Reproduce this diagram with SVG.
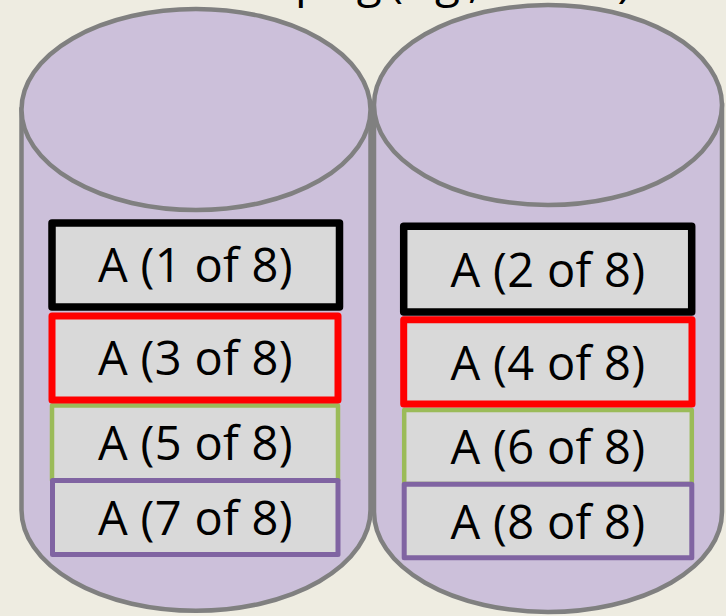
<svg xmlns="http://www.w3.org/2000/svg" width="726" height="616" viewBox="0 0 726 616">
  <style>
    .bg { fill: #EEECE1; }
    .disk { fill: #CCC0DA; stroke: #808080; stroke-width: 4.5; }
    .blk { fill: #D9D9D9; stroke-linejoin: round; }
    .s1 { stroke: #000000; stroke-width: 7.5; }
    .s2 { stroke: #FF0000; stroke-width: 7; }
    .s3 { stroke: #9BBB59; stroke-width: 4.5; }
    .s4 { stroke: #8064A2; stroke-width: 5; }
    .lbl { font-family: "Open Sans", "Liberation Sans", sans-serif; font-size: 47px; fill: #000000; text-anchor: middle; letter-spacing: 0.3px; }
    .title { font-family: "Open Sans", "Liberation Sans", sans-serif; font-size: 46px; fill: #000000; }
  </style>

  <rect class="bg" x="0" y="0" width="726" height="616"/>

  <!-- heading, mostly above the top edge -->
  <text class="title" x="231" y="-3.5" textLength="400" lengthAdjust="spacing">Striping (e.g., RAID 0)</text>

  <!-- disk 1 -->
  <g id="disk1">
    <path class="disk" d="M21.5,109.5 L21.5,510 A174,100.5 0 0 0 370.5,510 L370.5,109.5 Z"/>
    <ellipse class="disk" cx="196" cy="109.5" rx="174.5" ry="100.5"/>
  </g>

  <!-- disk 2 -->
  <g id="disk2">
    <path class="disk" d="M374,105 L374,512 A174,100 0 0 0 722,512 L722,105 Z"/>
    <ellipse class="disk" cx="548" cy="105" rx="174" ry="100"/>
  </g>

  <!-- blocks on disk 1 -->
  <g id="a5">
    <rect class="blk s3" x="52" y="405.5" width="286" height="75"/>
    <text class="lbl" x="195.5" y="460">A (5 of 8)</text>
  </g>
  <g id="a7">
    <rect class="blk s4" x="52.5" y="480.5" width="285.5" height="74"/>
    <text class="lbl" x="195.5" y="535">A (7 of 8)</text>
  </g>
  <g id="a3">
    <rect class="blk s2" x="52" y="316" width="286" height="84"/>
    <text class="lbl" x="195.5" y="375">A (3 of 8)</text>
  </g>
  <g id="a1">
    <rect class="blk s1" x="52" y="223" width="287.5" height="84"/>
    <text class="lbl" x="195.5" y="282">A (1 of 8)</text>
  </g>

  <!-- blocks on disk 2 -->
  <g id="a6">
    <rect class="blk s3" x="404.2" y="410" width="287.6" height="74"/>
    <text class="lbl" x="548" y="464">A (6 of 8)</text>
  </g>
  <g id="a8">
    <rect class="blk s4" x="404.2" y="484.2" width="287.6" height="73.6"/>
    <text class="lbl" x="548" y="538.5">A (8 of 8)</text>
  </g>
  <g id="a4">
    <rect class="blk s2" x="403.7" y="319.7" width="288.3" height="84.3"/>
    <text class="lbl" x="548" y="380">A (4 of 8)</text>
  </g>
  <g id="a2">
    <rect class="blk s1" x="403.7" y="226.3" width="288" height="85.7"/>
    <text class="lbl" x="548" y="287">A (2 of 8)</text>
  </g>
</svg>
